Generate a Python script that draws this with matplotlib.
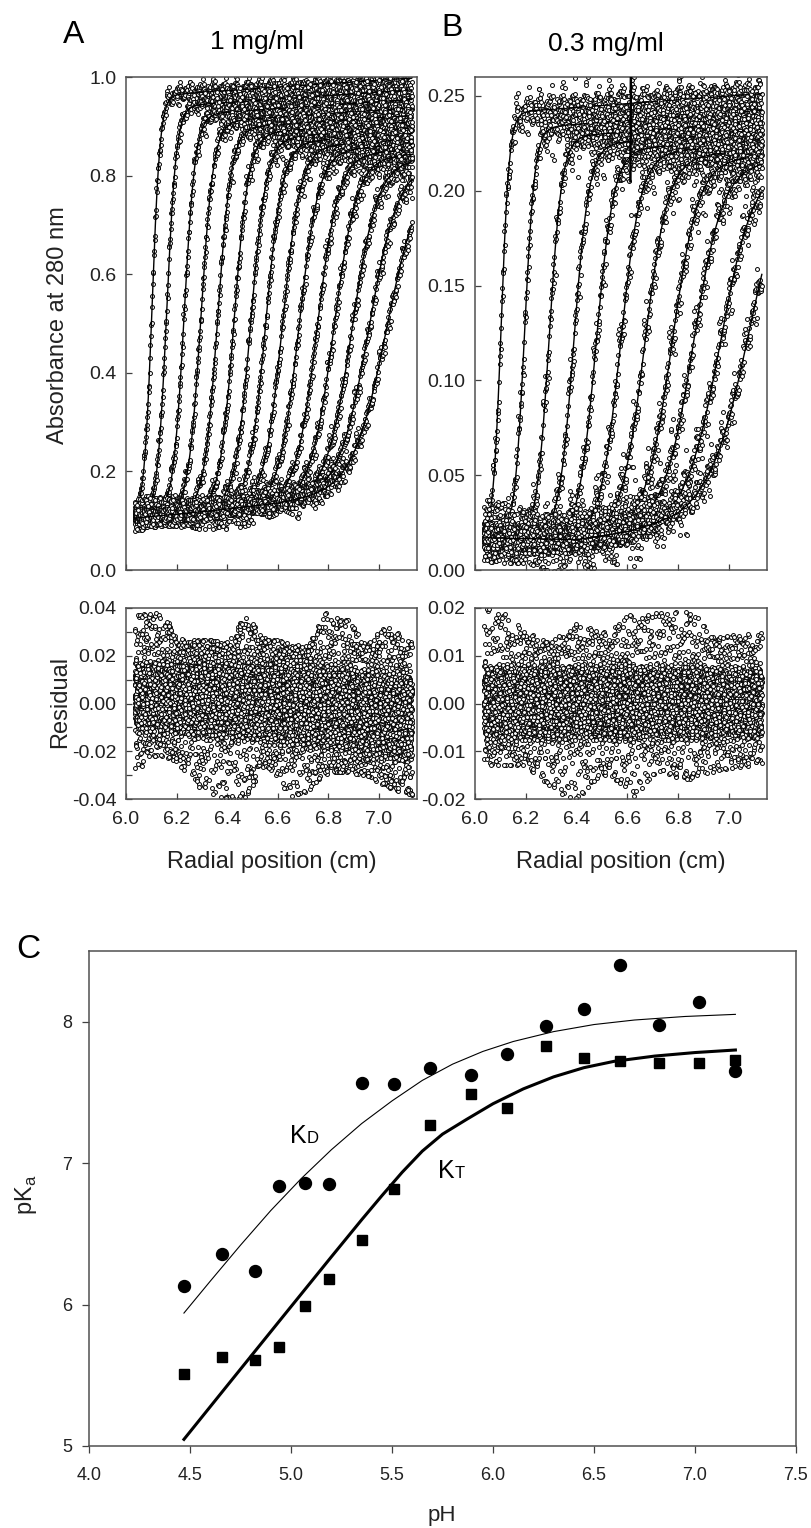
import numpy as np
import matplotlib
matplotlib.use('Agg')
import matplotlib.pyplot as plt

plt.rcParams['font.family'] = ['Liberation Sans', 'DejaVu Sans']
plt.rcParams['axes.unicode_minus'] = False

# ---- panel A (1 mg/ml): boundary positions ----
MID_A = [6.103, 6.161, 6.230, 6.296, 6.362, 6.427, 6.493, 6.552, 6.618,
         6.684, 6.756, 6.822, 6.894, 6.960, 7.030]
WID_A = [0.016, 0.019, 0.022, 0.025, 0.027, 0.029, 0.031, 0.033, 0.036,
         0.039, 0.042, 0.045, 0.050, 0.058, 0.066]
PLAT_A = [0.962, 0.940, 0.923, 0.908, 0.895, 0.884, 0.874, 0.865, 0.856,
          0.848, 0.840, 0.833, 0.826, 0.820, 0.815]
PLAT_SLOPE_A = 0.035
BASE_A_R = [6.03, 6.30, 6.60, 6.90, 7.13]
BASE_A_Y = [0.105, 0.118, 0.135, 0.158, 0.170]

# residual band A
CORE_A_R = [6.03, 6.30, 6.60, 6.90, 7.13]
CORE_A_MID = [0.003, 0.002, 0.000, -0.003, -0.007]
CORE_A_HALF = [0.017, 0.019, 0.020, 0.021, 0.022]
OUT_A_R = [6.03, 6.08, 6.15, 6.20, 6.30, 6.40, 6.47, 6.55, 6.65, 6.72,
           6.78, 6.87, 6.95, 7.03, 7.13]
OUT_A_HI = [0.037, 0.038, 0.039, 0.027, 0.027, 0.026, 0.037, 0.028, 0.025,
            0.024, 0.039, 0.036, 0.025, 0.033, 0.026]
OUT_A_LO = [-0.035, -0.022, -0.022, -0.025, -0.038, -0.040, -0.040, -0.027,
            -0.039, -0.037, -0.030, -0.030, -0.030, -0.035, -0.040]

# ---- panel B (0.3 mg/ml) ----
MID_B = [6.103, 6.195, 6.292, 6.389, 6.477, 6.573, 6.669, 6.777, 6.863,
         6.972, 7.080]
WID_B = [0.016, 0.020, 0.025, 0.030, 0.035, 0.040, 0.046, 0.052, 0.058,
         0.064, 0.070]
PLAT_B = [0.241, 0.233, 0.228, 0.224, 0.221, 0.219, 0.217, 0.215, 0.213,
          0.211, 0.210]
PLAT_SLOPE_B = 0.01
BASE_B_R = [6.03, 6.40, 6.60, 6.80, 6.95, 7.13]
BASE_B_Y = [0.017, 0.016, 0.020, 0.027, 0.036, 0.045]
SPIKE_B_R = [6.612, 6.614]
SPIKE_B_Y = [0.205, 0.262]

CORE_B_R = [6.03, 6.60, 7.13]
CORE_B_MID = [0.000, 0.000, 0.000]
CORE_B_HALF = [0.0095, 0.0095, 0.009]
OUT_B_R = [6.05, 6.10, 6.20, 6.30, 6.40, 6.50, 6.62, 6.72, 6.84, 6.95, 7.13]
OUT_B_HI = [0.020, 0.020, 0.015, 0.013, 0.017, 0.015, 0.019, 0.019, 0.020,
            0.014, 0.015]
OUT_B_LO = [-0.013, -0.013, -0.013, -0.019, -0.020, -0.015, -0.020, -0.014,
            -0.017, -0.014, -0.013]

# scatter offsets (fraction of band half width)
JITTER = [0.42, -0.77, 0.13, 0.91, -0.35, -0.08, 0.66, -0.94, 0.27, -0.51,
          0.83, 0.05, -0.62, 0.38, -0.19, 0.74, -0.87, 0.21, 0.56, -0.43,
          -0.99, 0.10, 0.69, -0.28, 0.47, -0.71, 0.88, -0.14, 0.32, -0.58,
          0.96, -0.36, 0.02, -0.83, 0.61, 0.18, -0.47, 0.79, -0.24, -0.66,
          0.51, 0.93, -0.11, -0.89, 0.35, 0.72, -0.53, 0.08, -0.31, 0.64,
          -0.79, 0.26, 0.85, -0.04, -0.69, 0.45, -0.16, 0.98, -0.57, 0.15,
          -0.92]

# ---- panel C ----
PH = [4.47, 4.66, 4.82, 4.94, 5.07, 5.19, 5.35, 5.51, 5.69, 5.89, 6.07,
      6.26, 6.45, 6.63, 6.82, 7.02, 7.20]
PK_D = [6.13, 6.36, 6.24, 6.84, 6.86, 6.85, 7.57, 7.56, 7.67, 7.62, 7.77,
        7.97, 8.09, 8.40, 7.98, 8.14, 7.65]
PK_T = [5.51, 5.63, 5.61, 5.70, 5.99, 6.18, 6.46, 6.82, 7.27, 7.49, 7.39,
        7.83, 7.74, 7.72, 7.71, 7.71, 7.73]
FIT_D_PH = [4.47, 4.60, 4.75, 4.90, 5.05, 5.20, 5.35, 5.50, 5.65, 5.80,
            5.95, 6.10, 6.30, 6.50, 6.70, 6.95, 7.20]
FIT_D_PK = [5.94, 6.165, 6.42, 6.665, 6.89, 7.095, 7.28, 7.44, 7.585, 7.70,
            7.79, 7.86, 7.93, 7.98, 8.012, 8.037, 8.052]
FIT_T_PH = [4.47, 4.70, 4.95, 5.20, 5.35, 5.45, 5.55, 5.65, 5.75, 5.87,
            6.00, 6.15, 6.30, 6.45, 6.60, 6.80, 7.00, 7.20]
FIT_T_PK = [5.047, 5.455, 5.897, 6.338, 6.60, 6.77, 6.935, 7.085, 7.205,
            7.31, 7.42, 7.525, 7.61, 7.675, 7.72, 7.757, 7.782, 7.80]

R_START, R_END, R_STEP = 6.035, 7.13, 0.0015

W, H = 811, 1528
fig = plt.figure(figsize=(W / 100, H / 100), dpi=100)


def rect(left, top, right, bottom):
    return [left / W, 1 - bottom / H, (right - left) / W, (bottom - top) / H]


def residuals(r, j, core_r, core_mid, core_half, out_r, out_hi, out_lo):
    i = np.arange(len(r))
    jit = np.array(JITTER)
    a = jit[(i * 23 + j * 7) % 61]
    b = jit[(i * 31 + j * 13) % 59]
    c = np.interp(r, core_r, core_mid)
    h = np.interp(r, core_r, core_half)
    hi = np.interp(r, out_r, out_hi)
    lo = np.interp(r, out_r, out_lo)
    res = c + h * (0.8 * a + 0.2 * b)
    t = 0.5 + 0.5 * b
    res = np.where(a > 0.9, c + 0.9 * h + (hi - c - 0.9 * h) * t, res)
    res = np.where(a < -0.9, c - 0.9 * h + (lo - c + 0.9 * h) * t, res)
    return res


def scans(mids, wids, plats, slope, base_r, base_y, core, out):
    data = []
    for j, (m, w, p) in enumerate(zip(mids, wids, plats)):
        r = np.arange(R_START + j * 0.00011, R_END, R_STEP)
        base = np.interp(r, base_r, base_y)
        top = p + slope * (r - m)
        fit = base + (top - base) / (1 + np.exp(-(r - m) / w))
        res = residuals(r, j, *core, *out)
        data.append((r, fit, fit + res, res))
    return data


def style(ax, direction='in', length=4):
    for s in ax.spines.values():
        s.set_color('#505050')
        s.set_linewidth(1.1)
    ax.tick_params(direction=direction, length=length, width=0.9,
                   color='#404040', labelsize=14, labelcolor='#222222')


mk = dict(s=8, facecolors='white', edgecolors='black', linewidths=0.7)

panels = [
    (scans(MID_A, WID_A, PLAT_A, PLAT_SLOPE_A, BASE_A_R, BASE_A_Y,
           (CORE_A_R, CORE_A_MID, CORE_A_HALF),
           (OUT_A_R, OUT_A_HI, OUT_A_LO)),
     126, 417, (0, 1.0), np.arange(0, 1.01, 0.2), '%.1f',
     (-0.04, 0.04), np.arange(-0.04, 0.041, 0.02), np.arange(-0.04, 0.041, 0.01)),
    (scans(MID_B, WID_B, PLAT_B, PLAT_SLOPE_B, BASE_B_R, BASE_B_Y,
           (CORE_B_R, CORE_B_MID, CORE_B_HALF),
           (OUT_B_R, OUT_B_HI, OUT_B_LO)),
     475, 767, (0, 0.26), np.arange(0, 0.251, 0.05), '%.2f',
     (-0.02, 0.02), np.arange(-0.02, 0.021, 0.01), None),
]

xt = [6.0, 6.2, 6.4, 6.6, 6.8, 7.0]
for k, (data, x0, x1, ylim, yt, yfmt, rlim, rt, rminor) in enumerate(panels):
    ax = fig.add_axes(rect(x0, 77, x1, 570))
    # each scan: points then its fitted line, later scans drawn over earlier
    for r, fit, y, res in data:
        ax.scatter(r, y, zorder=2, **mk)
        ax.plot(r, fit, color='black', lw=1.0, zorder=2)
    if k == 1:
        ax.plot(SPIKE_B_R, SPIKE_B_Y, color='black', lw=1.8, zorder=3)
    ax.set_xlim(6.0, 7.15)
    ax.set_ylim(*ylim)
    ax.set_yticks(yt)
    ax.set_yticklabels([yfmt % v for v in yt])
    ax.set_xticks(xt)
    ax.set_xticklabels([])
    style(ax)
    ax.tick_params(axis='y', pad=7)

    axr = fig.add_axes(rect(x0, 608, x1, 799))
    for r, fit, y, res in data:
        axr.scatter(r, res, zorder=2, **mk)
    axr.set_xlim(6.0, 7.15)
    axr.set_ylim(*rlim)
    axr.set_yticks(rt)
    axr.set_yticklabels(['%.2f' % v for v in rt])
    if rminor is not None:
        axr.set_yticks(rminor, minor=True)
    axr.set_xticks(xt)
    axr.set_xticklabels(['%.1f' % v for v in xt])
    style(axr)
    axr.tick_params(which='minor', direction='in', length=4, width=0.9,
                    color='#404040')
    axr.tick_params(axis='y', pad=7)
    axr.tick_params(axis='x', pad=9)

# panel labels and titles
fig.text(74 / W, 1 - 35 / H, 'A', fontsize=23, ha='center', va='center')
fig.text(452 / W, 1 - 28 / H, 'B', fontsize=23, ha='center', va='center')
fig.text(257 / W, 1 - 42 / H, '1 mg/ml', fontsize=19, ha='center', va='center')
fig.text(606 / W, 1 - 44 / H, '0.3 mg/ml', fontsize=19, ha='center',
         va='center')
fig.text(58 / W, 1 - 325 / H, 'Absorbance at 280 nm', fontsize=17,
         rotation=90, ha='center', va='center', color='#222222')
fig.text(60 / W, 1 - 702 / H, 'Residual', fontsize=17, rotation=90,
         ha='center', va='center', color='#222222')
fig.text(272 / W, 1 - 862 / H, 'Radial position (cm)', fontsize=17,
         ha='center', va='center', color='#222222')
fig.text(621 / W, 1 - 862 / H, 'Radial position (cm)', fontsize=17,
         ha='center', va='center', color='#222222')

# ---- panel C ----
axc = fig.add_axes(rect(89, 951, 796, 1446))
axc.plot(FIT_D_PH, FIT_D_PK, color='black', lw=0.8)
axc.plot(FIT_T_PH, FIT_T_PK, color='black', lw=2.2)
axc.plot(PH, PK_D, 'o', color='black', markersize=8.6)
axc.plot(PH, PK_T, 's', color='black', markersize=7.8)
axc.set_xlim(4.0, 7.5)
axc.set_ylim(5, 8.5)
axc.set_xticks(np.arange(4.0, 7.51, 0.5))
axc.set_xticklabels(['%.1f' % v for v in np.arange(4.0, 7.51, 0.5)])
axc.set_yticks([5, 6, 7, 8])
style(axc, direction='out', length=5)
axc.tick_params(labelsize=13)
axc.tick_params(axis='x', pad=10)
axc.tick_params(axis='y', pad=7)

axc.text(4.996, 7.145, 'K', fontsize=18, va='baseline', ha='left')
axc.annotate('D', xy=(4.996, 7.145), xytext=(12, 0),
             textcoords='offset points', fontsize=12, va='baseline')
axc.text(5.729, 6.897, 'K', fontsize=18, va='baseline', ha='left')
axc.annotate('T', xy=(5.729, 6.897), xytext=(12, 0),
             textcoords='offset points', fontsize=12, va='baseline')

fig.text(28 / W, 1 - 950 / H, 'C', fontsize=24, ha='center', va='center')
fig.text(442 / W, 1 - 1515 / H, 'pH', fontsize=16, ha='center', va='center',
         color='#222222')
fig.text(26 / W, 1 - 1195 / H, r'pK$_\mathregular{a}$', fontsize=17,
         rotation=90, ha='center', va='center', color='#222222')

fig.savefig('out.png', dpi=100)
